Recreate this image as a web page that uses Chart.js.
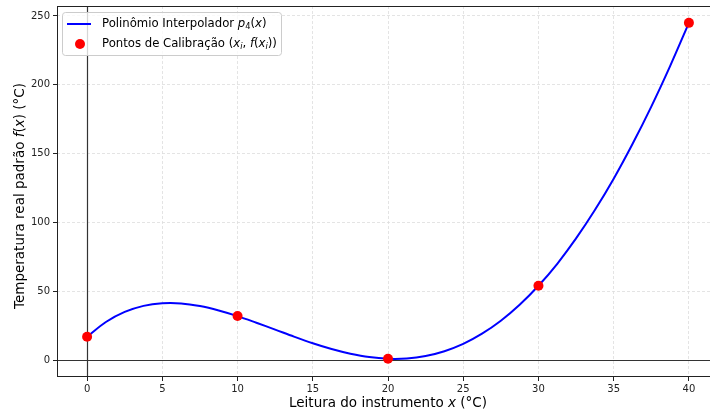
<!DOCTYPE html>
<html><head><meta charset="utf-8">
<script src="https://cdn.jsdelivr.net/npm/chart.js@4.4.0/dist/chart.umd.min.js"></script>
<style>html,body{margin:0;padding:0;overflow:hidden;background:#fff}#wrap{width:724px;height:414px;position:relative}</style>
</head><body><div id="wrap"><canvas id="c" width="724" height="414"></canvas></div>
<script>
const curveX = [0, 1.25, 2.5, 3.75, 5, 6.25, 7.5, 8.75, 10, 11.25, 12.5, 13.75, 15, 16.25, 17.5, 18.75,
                20, 21.25, 22.5, 23.75, 25, 26.25, 27.5, 28.75, 30, 31.25, 32.5, 33.75, 35, 36.25, 37.5, 38.75, 40];
const curveY = [17, 27.7, 35.0, 39.4, 41.3, 41.2, 39.3, 36.1, 32, 27.2, 22.2, 17.1, 12.3, 8.1, 4.7, 2.2,
                1, 1.2, 3.0, 6.5, 11.8, 19.2, 28.6, 40.2, 54, 70.0, 88.4, 109.0, 131.8, 157.0, 184.2, 213.6, 245];
// Calibration points
const calibX = [0, 10, 20, 30, 40];
const calibY = [17, 32, 1, 54, 245];
// Tick labels
const xTicks = [0, 5, 10, 15, 20, 25, 30, 35, 40];
const yTicks = [0, 50, 100, 150, 200, 250];

const FONT = '"DejaVu Sans", Verdana, sans-serif';

function drawSegs(ctx, segs, x, y, align) {
  let total = 0;
  for (const s of segs) { ctx.font = (s.italic ? 'italic ' : '') + s.size + 'px ' + FONT; total += ctx.measureText(s.t).width; }
  let cx = align === 'center' ? x - total / 2 : x;
  for (const s of segs) {
    ctx.font = (s.italic ? 'italic ' : '') + s.size + 'px ' + FONT;
    ctx.fillText(s.t, cx, y + (s.dy || 0));
    cx += ctx.measureText(s.t).width;
  }
}

const decor = {
  id: 'decor',
  beforeDatasetsDraw(chart) {
    const {ctx, chartArea: a, scales: {x, y}} = chart;
    ctx.save();
    ctx.strokeStyle = '#333'; ctx.lineWidth = 1.2;
    const x0 = Math.round(x.getPixelForValue(0)) + 0.5;
    const y0 = Math.round(y.getPixelForValue(0)) + 0.5;
    ctx.beginPath();
    ctx.moveTo(x0, a.top); ctx.lineTo(x0, a.bottom);
    ctx.moveTo(a.left, y0); ctx.lineTo(a.right, y0);
    ctx.stroke();
    ctx.lineWidth = 1;
    ctx.strokeStyle = '#222';
    ctx.strokeRect(a.left + 0.5, a.top + 0.5, a.width - 1, a.height - 1);
    ctx.restore();
  },
  afterDraw(chart) {
    const {ctx, chartArea: a} = chart;
    ctx.save();
    ctx.fillStyle = '#000';
    ctx.textBaseline = 'middle';
    const TS = 13.5;
    drawSegs(ctx, [
      {t: 'Leitura do instrumento ', size: TS},
      {t: 'x', size: TS, italic: true},
      {t: ' (°C)', size: TS}
    ], (a.left + a.right) / 2, 403, 'center');
    ctx.save();
    ctx.translate(20, 196);
    ctx.rotate(-Math.PI / 2);
    drawSegs(ctx, [
      {t: 'Temperatura real padrão ', size: TS},
      {t: 'f', size: TS, italic: true},
      {t: '(', size: TS},
      {t: 'x', size: TS, italic: true},
      {t: ')', size: TS},
      {t: ' (°C)', size: TS}
    ], 0, 0, 'center');
    ctx.restore();
    // legend
    const bx = 62.5, by = 12.5, bw = 219, bh = 43;
    ctx.beginPath();
    ctx.roundRect(bx, by, bw, bh, 3);
    ctx.fillStyle = 'rgba(255,255,255,0.8)';
    ctx.fill();
    ctx.strokeStyle = '#cccccc'; ctx.lineWidth = 1;
    ctx.stroke();
    ctx.strokeStyle = '#0000ff'; ctx.lineWidth = 2;
    ctx.beginPath(); ctx.moveTo(67, 24); ctx.lineTo(91, 24); ctx.stroke();
    ctx.fillStyle = '#ff0000';
    ctx.beginPath(); ctx.arc(80, 44, 5, 0, Math.PI * 2); ctx.fill();
    ctx.fillStyle = '#000';
    const LS = 11.7, SS = 8.3;
    drawSegs(ctx, [
      {t: 'Polinômio Interpolador ', size: LS},
      {t: 'p', size: LS, italic: true},
      {t: '4', size: SS, dy: 3},
      {t: '(', size: LS},
      {t: 'x', size: LS, italic: true},
      {t: ')', size: LS}
    ], 102, 24, 'left');
    drawSegs(ctx, [
      {t: 'Pontos de Calibração (', size: LS},
      {t: 'x', size: LS, italic: true},
      {t: 'i', size: SS, italic: true, dy: 3},
      {t: ', ', size: LS},
      {t: 'f', size: LS, italic: true},
      {t: '(', size: LS},
      {t: 'x', size: LS, italic: true},
      {t: 'i', size: SS, italic: true, dy: 3},
      {t: '))', size: LS}
    ], 102, 44, 'left');
    ctx.restore();
  }
};

const gridCommon = {
  color: '#dddddd',
  lineWidth: 0.8,
  drawTicks: true,
  tickLength: 4,
  tickColor: '#222',
  tickWidth: 1
};

new Chart(document.getElementById('c'), {
  data: {
    datasets: [
      {
        type: 'scatter',
        label: 'Pontos de Calibração',
        data: calibX.map((v, i) => ({x: v, y: calibY[i]})),
        backgroundColor: '#ff0000',
        borderColor: '#ff0000',
        pointRadius: 5,
        pointBorderWidth: 0,
        order: 0
      },
      {
        type: 'line',
        label: 'Polinômio Interpolador',
        data: curveX.map((v, i) => ({x: v, y: curveY[i]})),
        borderColor: '#0000ff',
        borderWidth: 2,
        pointRadius: 0,
        tension: 0.33,
        fill: false,
        order: 1
      }
    ]
  },
  options: {
    responsive: false,
    animation: false,
    devicePixelRatio: 1,
    layout: {padding: {left: 0, top: 6, right: 4, bottom: 0}},
    plugins: {legend: {display: false}, tooltip: {enabled: false}},
    scales: {
      x: {
        type: 'linear',
        min: -2, max: 42,
        afterBuildTicks: s => { s.ticks = xTicks.map(v => ({value: v})); },
        afterFit: s => { s.height = 37; s.paddingLeft = 0; s.paddingRight = 0; },
        ticks: {font: {family: FONT, size: 10}, color: '#222', padding: 2, maxRotation: 0},
        grid: gridCommon,
        border: {display: false, dash: [3, 2]}
      },
      y: {
        type: 'linear',
        min: -12.25, max: 257.25,
        afterBuildTicks: s => { s.ticks = yTicks.map(v => ({value: v})); },
        afterFit: s => { s.width = 57; s.paddingTop = 0; s.paddingBottom = 0; },
        ticks: {font: {family: FONT, size: 10}, color: '#222', padding: 3},
        grid: gridCommon,
        border: {display: false, dash: [3, 2]}
      }
    }
  },
  plugins: [decor]
});
</script>
</body></html>
